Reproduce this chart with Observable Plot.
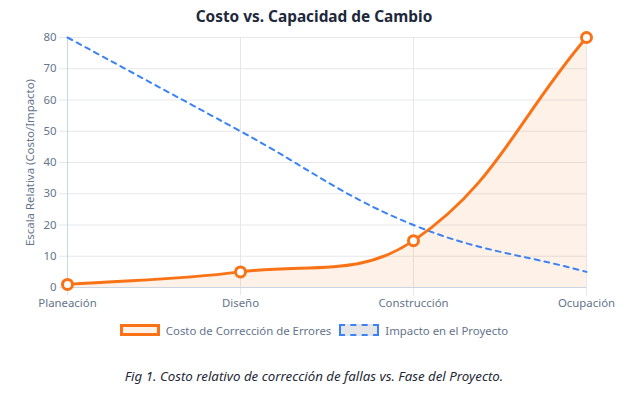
<!DOCTYPE html>
<html>
<head>
<meta charset="utf-8">
<script src="https://cdn.jsdelivr.net/npm/d3@7"></script>
<script src="https://cdn.jsdelivr.net/npm/@observablehq/plot@0.6"></script>
<style>
  body { margin: 0; background: #fff; font-family: "Noto Sans", sans-serif; }
  #wrap { width: 628px; height: 393px; position: relative; overflow: hidden; }
  #title { height: 22px; line-height: 30px; padding-top: 2px; box-sizing: border-box; text-align: center;
           font-weight: bold; font-size: 15.4px; color: #1e293b; overflow: visible; }
  #chart svg { display: block; overflow: visible; }
  #legend { display: flex; justify-content: center; align-items: center; height: 20px; font-size: 11.4px; color: #64748b; }
  .item { display: flex; align-items: center; margin: 0 4px; }
  .box { width: 40px; height: 12px; box-sizing: border-box; margin-right: 6px; }
  #caption { text-align: center; font-style: italic; font-size: 13.3px; color: #1f2937; margin-top: 27px; }
</style>
</head>
<body>
<div id="wrap">
  <div id="title"></div>
  <div id="chart"></div>
  <div id="legend"></div>
  <div id="caption"></div>
</div>
<script>
const titleText = "Costo vs. Capacidad de Cambio";
const yTitle = "Escala Relativa (Costo/Impacto)";
const captionText = "Fig 1. Costo relativo de corrección de fallas vs. Fase del Proyecto.";
const phases = ["Planeación", "Diseño", "Construcción", "Ocupación"];
const costValues = [1, 5, 15, 80];
const impactValues = [80, 50, 20, 5];
const seriesNames = ["Costo de Corrección de Errores", "Impacto en el Proyecto"];
const yTicks = [0, 10, 20, 30, 40, 50, 60, 70, 80];

const ORANGE = "#f97316", BLUE = "#3b82f6", GRID = "#e5e7eb", TICKC = "#64748b";

// Chart.js-like bezier spline (tension 0.4)
function chartjsCurve(tension) {
  return function(context) {
    return {
      _line: NaN,
      areaStart() { this._line = 0; },
      areaEnd() { this._line = NaN; },
      lineStart() { this._pts = []; },
      point(x, y) { this._pts.push([+x, +y]); },
      lineEnd() {
        const p = this._pts, n = p.length;
        if (n) {
          if (this._line) context.lineTo(p[0][0], p[0][1]); else context.moveTo(p[0][0], p[0][1]);
          const cps = p.map((c, i) => {
            const prev = p[i - 1] || c, next = p[i + 1] || c;
            const d01 = Math.hypot(c[0] - prev[0], c[1] - prev[1]);
            const d12 = Math.hypot(next[0] - c[0], next[1] - c[1]);
            let s01 = d01 / (d01 + d12), s12 = d12 / (d01 + d12);
            if (!isFinite(s01)) s01 = 0;
            if (!isFinite(s12)) s12 = 0;
            const fa = tension * s01, fb = tension * s12;
            return {
              p: [c[0] - fa * (next[0] - prev[0]), c[1] - fa * (next[1] - prev[1])],
              n: [c[0] + fb * (next[0] - prev[0]), c[1] + fb * (next[1] - prev[1])]
            };
          });
          for (let i = 1; i < n; i++) {
            context.bezierCurveTo(cps[i - 1].n[0], cps[i - 1].n[1], cps[i].p[0], cps[i].p[1], p[i][0], p[i][1]);
          }
        }
        if (this._line || (this._line !== 0 && n === 1)) context.closePath();
        this._line = 1 - this._line;
      }
    };
  };
}
const curve = chartjsCurve(0.4);

const cost = phases.map((ph, i) => ({phase: ph, value: costValues[i]}));
const impact = phases.map((ph, i) => ({phase: ph, value: impactValues[i]}));

document.getElementById("title").textContent = titleText;
document.getElementById("caption").textContent = captionText;

const plot = Plot.plot({
  width: 628,
  height: 298,
  marginTop: 15,
  marginBottom: 33,
  marginLeft: 67,
  marginRight: 42,
  style: {fontFamily: "Noto Sans, sans-serif", fontSize: "11.4px", color: TICKC, background: "transparent", overflow: "visible"},
  x: {type: "point", domain: phases, padding: 0},
  y: {domain: [0, 80]},
  marks: [
    Plot.ruleY(yTicks, {stroke: GRID, strokeWidth: 1}),
    Plot.ruleX(phases, {stroke: GRID, strokeWidth: 1}),
    Plot.axisY({ticks: yTicks, tickSize: 8, tickPadding: 3, stroke: GRID, strokeOpacity: 1, label: null, fill: TICKC}),
    Plot.axisX({tickSize: 8, tickPadding: 3, stroke: GRID, strokeOpacity: 1, label: null, fill: TICKC}),
    Plot.ruleX([phases[0]], {stroke: "#cbd5e1", strokeWidth: 1}),
    Plot.ruleY([0], {stroke: "#cbd5e1", strokeWidth: 1}),
    Plot.areaY(cost, {x: "phase", y: "value", curve, fill: ORANGE, fillOpacity: 0.1}),
    Plot.lineY(impact, {x: "phase", y: "value", curve, stroke: BLUE, strokeWidth: 2, strokeDasharray: "5,5"}),
    Plot.lineY(cost, {x: "phase", y: "value", curve, stroke: ORANGE, strokeWidth: 3}),
    Plot.dot(cost, {x: "phase", y: "value", r: 5, fill: "white", stroke: ORANGE, strokeWidth: 3}),
    Plot.text([yTitle], {text: d => d, frameAnchor: "left", dx: -37, rotate: -90, textAnchor: "middle", fill: TICKC, fontSize: 11.4})
  ]
});
document.getElementById("chart").appendChild(plot);

const legend = document.getElementById("legend");
const styles = [
  {fill: "rgba(249,115,22,0.1)", border: `3px solid ${ORANGE}`},
  {fill: "rgba(0,0,0,0.1)", border: `2px dashed ${BLUE}`}
];
seriesNames.forEach((name, i) => {
  const item = document.createElement("div");
  item.className = "item";
  const box = document.createElement("span");
  box.className = "box";
  box.style.background = styles[i].fill;
  box.style.border = styles[i].border;
  const label = document.createElement("span");
  label.textContent = name;
  item.appendChild(box);
  item.appendChild(label);
  legend.appendChild(item);
});
</script>
</body>
</html>
